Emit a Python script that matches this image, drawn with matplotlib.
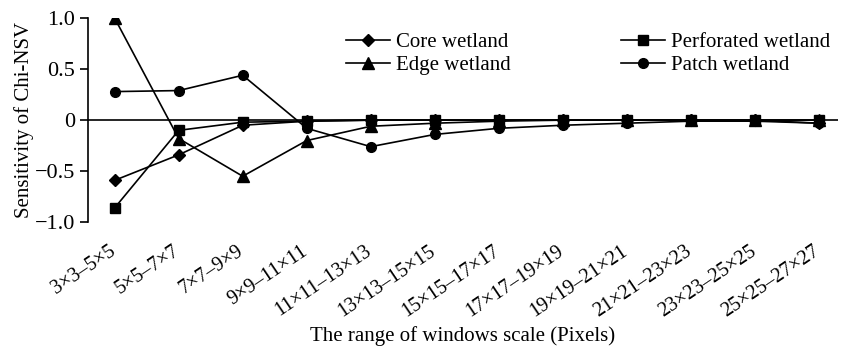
import matplotlib.pyplot as plt
from matplotlib.ticker import FixedLocator, FixedFormatter
from matplotlib.transforms import ScaledTranslation

plt.rcParams['font.family'] = ['Liberation Serif', 'DejaVu Serif']

windows = ["3×3–5×5", "5×5–7×7", "7×7–9×9", "9×9–11×11", "11×11–13×13",
           "13×13–15×15", "15×15–17×17", "17×17–19×19", "19×19–21×21",
           "21×21–23×23", "23×23–25×25", "25×25–27×27"]

core = [-0.59, -0.34, -0.05, -0.01, 0.0, 0.0, 0.0, 0.0, 0.0, 0.0, 0.0, -0.03]
perforated = [-0.86, -0.10, -0.02, -0.01, 0.0, 0.0, 0.0, 0.0, 0.0, 0.0, 0.0, 0.0]
edge = [1.0, -0.18, -0.55, -0.20, -0.06, -0.03, -0.01, 0.0, 0.0, 0.0, 0.0, 0.0]
patch = [0.28, 0.29, 0.44, -0.08, -0.26, -0.14, -0.08, -0.05, -0.03, -0.01, -0.01, -0.03]

y_ticks = [-1.0, -0.5, 0, 0.5, 1.0]
y_tick_labels = ["−1.0", "−0.5", "0", "0.5", "1.0"]

fig = plt.figure(figsize=(8.44, 3.56), dpi=100)
ax = fig.add_axes([0.104, 0.376, 0.889, 0.573])

x = list(range(len(windows)))
ax.axhline(0, color="black", lw=1.2, zorder=1)

style = dict(color="black", lw=1.2, markersize=7, zorder=3)
ax.plot(x, core, marker="D", markersize=6, color="black", lw=1.2, label="Core wetland")
ax.plot(x, perforated, marker="s", label="Perforated wetland", **style)
ax.plot(x, edge, marker="^", markersize=8, color="black", lw=1.2, label="Edge wetland")
ax.plot(x, patch, marker="o", label="Patch wetland", **style)

ax.set_xlim(-0.42, 11.3)
ax.set_ylim(-1.0, 1.0)

ax.yaxis.set_major_locator(FixedLocator(y_ticks))
ax.yaxis.set_major_formatter(FixedFormatter(y_tick_labels))
ax.tick_params(axis="y", direction="out", length=6, width=1.2, labelsize=16, pad=3)

ax.set_xticks(x)
ax.set_xticklabels(windows, rotation=34, ha="right", rotation_mode="anchor", fontsize=14.5)
ax.tick_params(axis="x", length=0, pad=14)
# nudge the slanted labels left so their ends sit under the points
shift = ScaledTranslation(-0.06, 0, fig.dpi_scale_trans)
for lbl in ax.get_xticklabels():
    lbl.set_transform(lbl.get_transform() + shift)

for s in ["top", "right", "bottom"]:
    ax.spines[s].set_visible(False)
ax.spines["left"].set_linewidth(1.2)

ax.set_ylabel("Sensitivity of Chi-NSV", fontsize=15)
ax.yaxis.set_label_coords(-0.072, 0.5)
ax.set_xlabel("The range of windows scale (Pixels)", fontsize=15, va="center")
ax.xaxis.set_label_coords(0.5, -0.56)

handles, labels = ax.get_legend_handles_labels()
order = [0, 2, 1, 3]
ax.legend([handles[i] for i in order], [labels[i] for i in order], ncol=2,
          frameon=False, fontsize=15, loc="upper right", bbox_to_anchor=(1.015, 1.02),
          handlelength=2.1, columnspacing=5.3, labelspacing=0.15, handletextpad=0.3)

fig.savefig("out.png", dpi=100)
